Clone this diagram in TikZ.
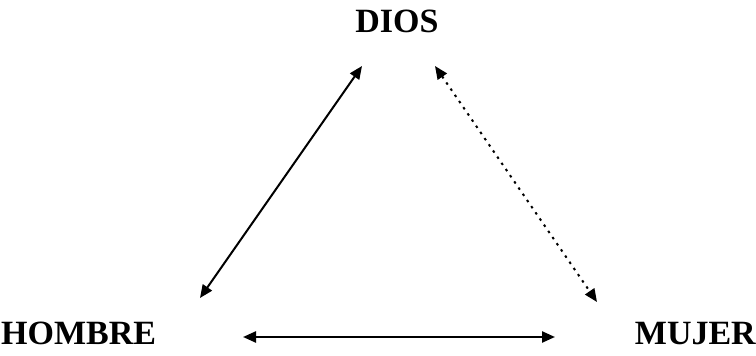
\documentclass[tikz,border=0pt]{standalone}
\usepackage{fontspec}
\setmainfont{Liberation Serif}
\usetikzlibrary{arrows.meta}
\tikzset{
    word/.style={font=\fontsize{34}{40}\selectfont\bfseries, inner sep=0pt},
    link/.style={line width=2pt, {Triangle[length=13pt,width=11pt]}-{Triangle[length=13pt,width=11pt]}}
}
\begin{document}
\begin{tikzpicture}[x=1pt, y=1pt]
    % Frame
    \useasboundingbox (0,0) rectangle (756,356);
    % Words
    \node[word, anchor=base] (dios) at (397, 323) {DIOS};
    \node[word, anchor=base west] (hombre) at (1, 11) {HOMBRE};
    \node[word, anchor=base east] (mujer) at (756, 11) {MUJER};
    % Arrow ends
    \coordinate (dl) at (362, 290); \coordinate (dr) at (435, 290);
    \coordinate (hu) at (200, 58);  \coordinate (hr) at (243, 19);
    \coordinate (mu) at (597, 54);  \coordinate (ml) at (555, 19);
    % Links
    \draw[link] (dl) -- (hu);
    \draw[link, dash pattern=on 2.5pt off 5pt] (dr) -- (mu);
    \draw[link, line width=2.4pt] (hr) -- (ml);
\end{tikzpicture}
\end{document}
